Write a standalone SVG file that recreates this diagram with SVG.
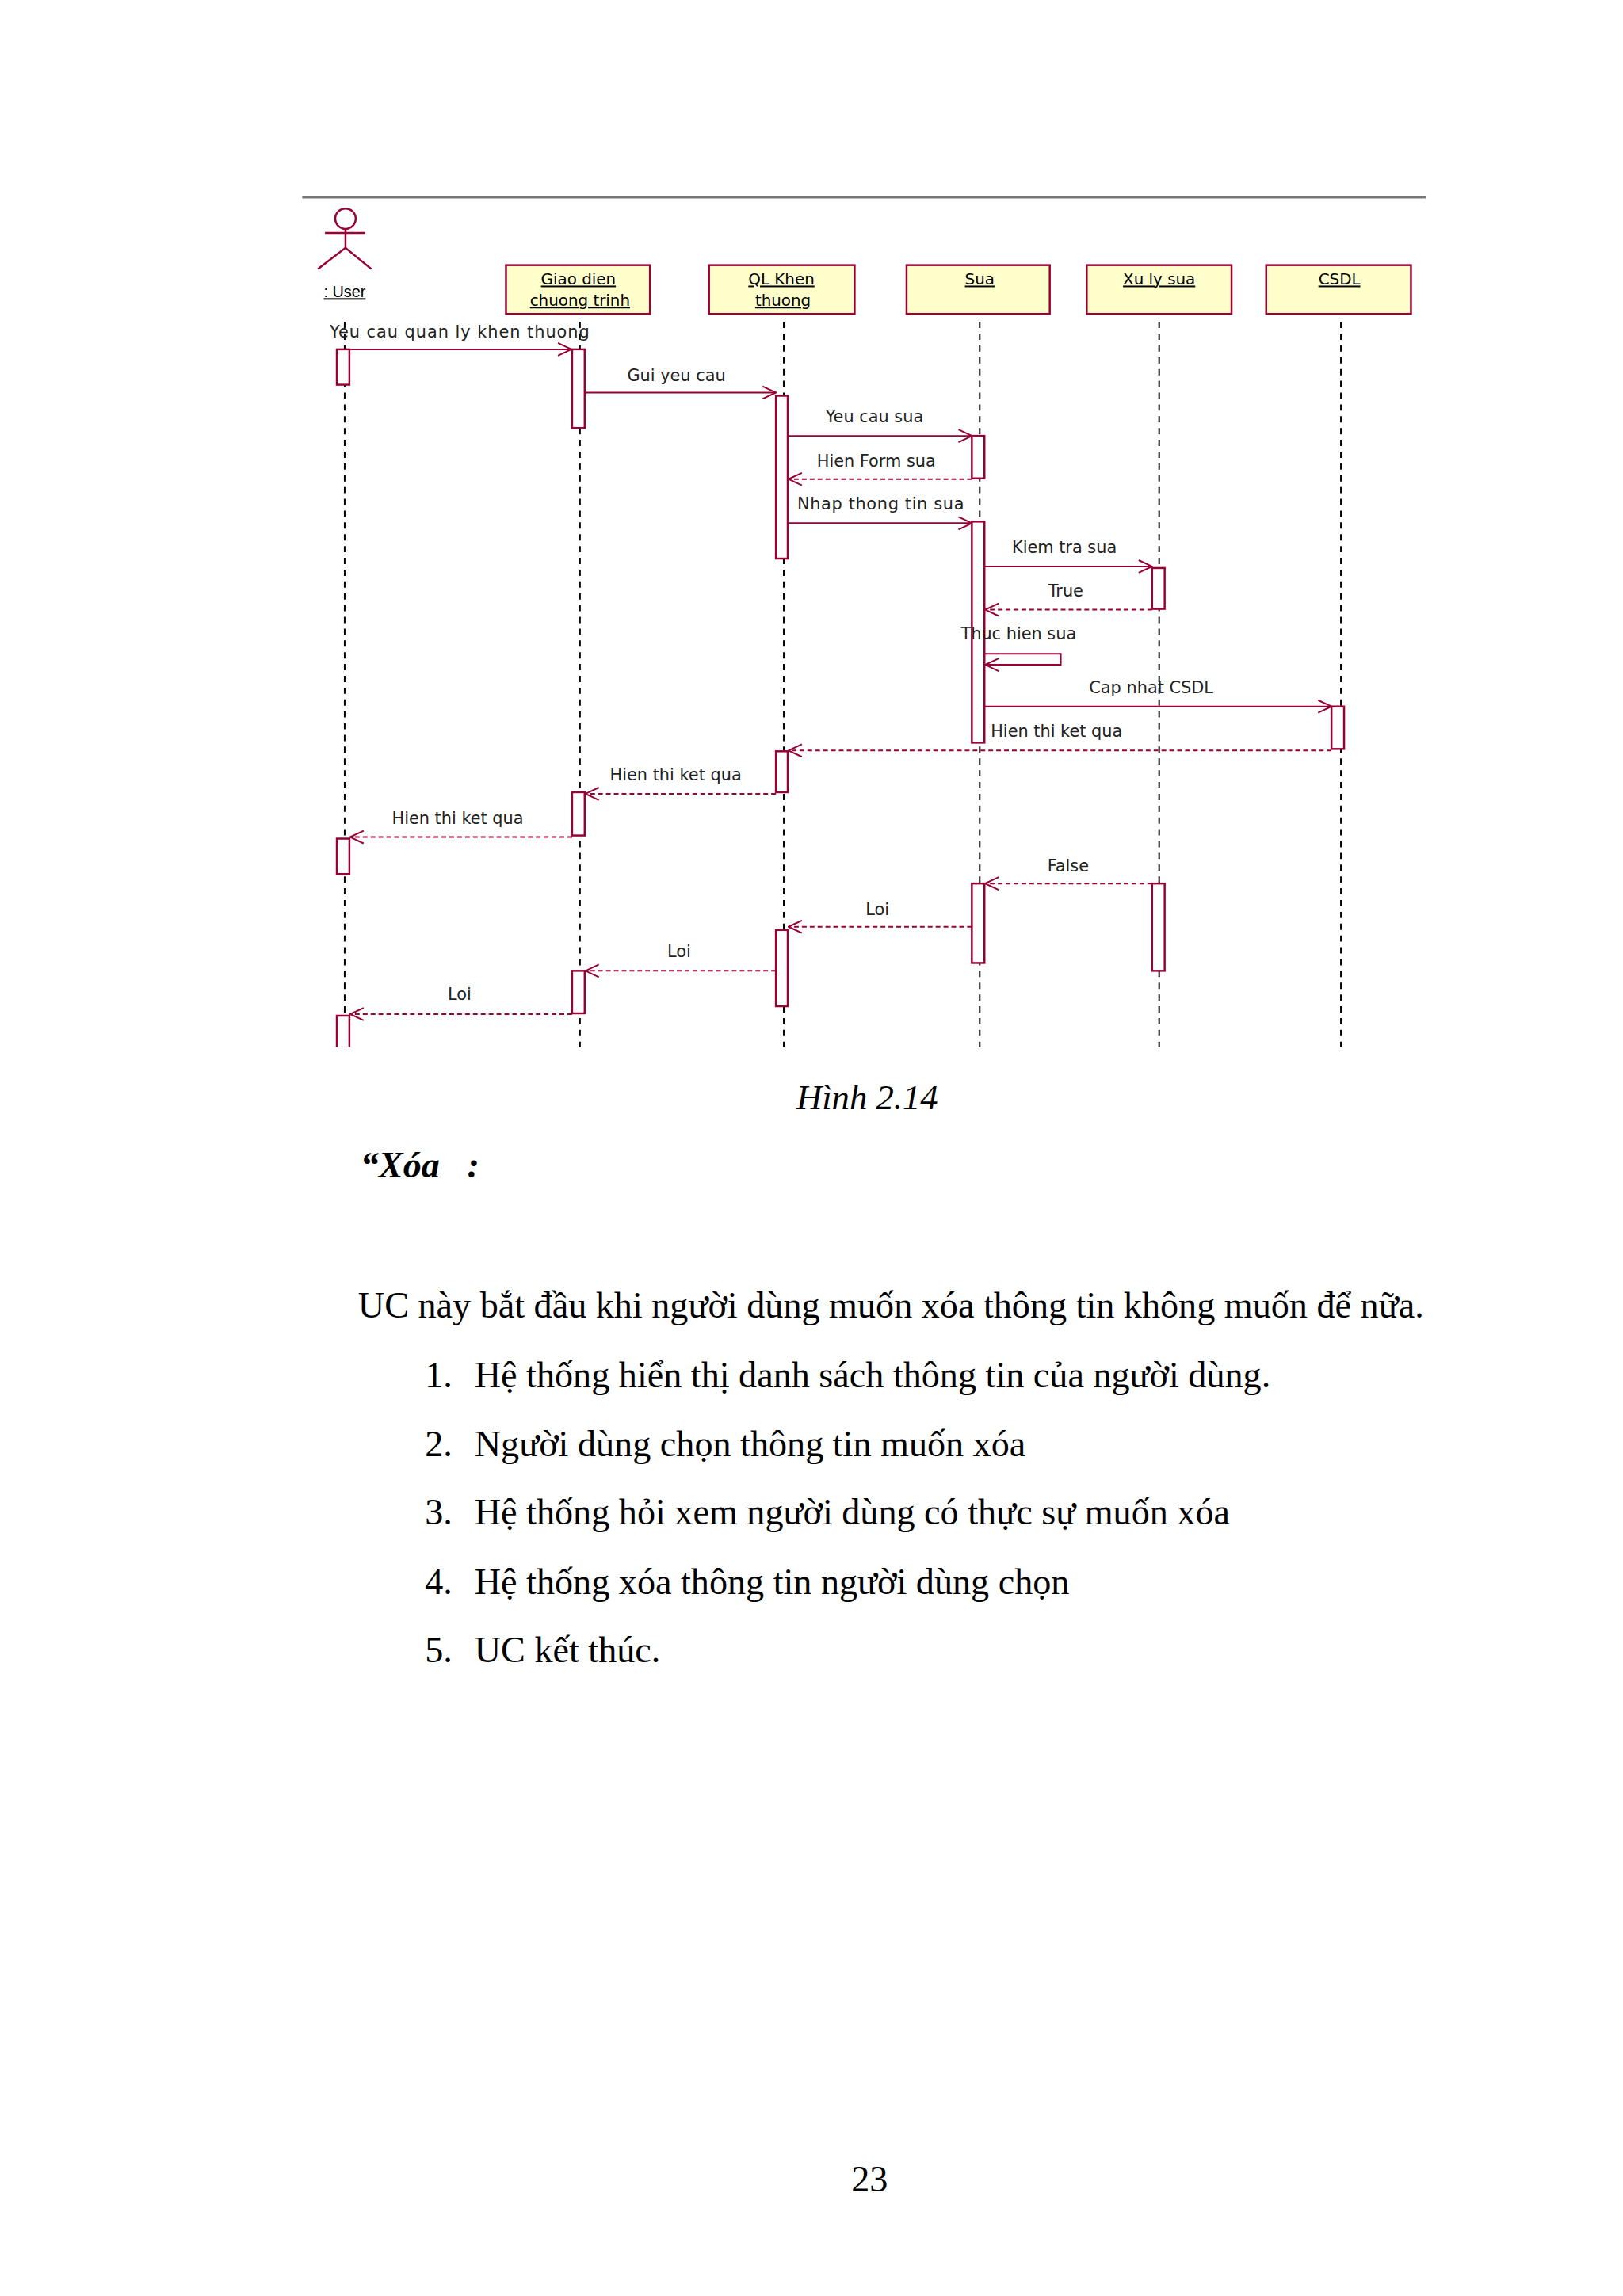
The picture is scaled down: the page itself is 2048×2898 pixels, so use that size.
<svg xmlns="http://www.w3.org/2000/svg" width="2048" height="2898" viewBox="0 0 2048 2898">
<style>
.box{fill:#ffffcc;stroke:#990033;stroke-width:2.5}
.act{fill:#fff;stroke:#990033;stroke-width:2.5}
.life{stroke:#000;stroke-width:2;stroke-dasharray:8,7}
.msg{stroke:#990033;stroke-width:2;fill:none}
.ret{stroke:#990033;stroke-width:2;fill:none;stroke-dasharray:6,4}
.nt{font-family:"DejaVu Sans",Verdana,sans-serif;font-size:20px;fill:#000;text-anchor:middle;text-decoration:underline}
.ml{font-family:"DejaVu Sans",Verdana,sans-serif;font-size:21px;fill:#222}
.body{font-family:"Liberation Serif","Times New Roman",serif;font-size:46.5px;fill:#000}
</style>
<defs>
<marker id="ah" viewBox="0 0 20 20" refX="19" refY="10" markerWidth="20" markerHeight="20" markerUnits="userSpaceOnUse" orient="auto">
<path d="M2,2 L19,10 L2,18" fill="none" stroke="#990033" stroke-width="2"/>
</marker>
</defs>
<rect width="2048" height="2898" fill="#fff"/>
<g transform="scale(0.993)">
<g transform="translate(0,5)">
<line x1="384" y1="246" x2="1812" y2="246" stroke="#777" stroke-width="2.5"/>

<g id="user">
<circle cx="439" cy="273" r="13" fill="none" stroke="#990033" stroke-width="2.5"/>
<line x1="439" y1="286" x2="439" y2="310" stroke="#990033" stroke-width="2.5"/>
<line x1="413" y1="291" x2="464" y2="291" stroke="#990033" stroke-width="2.5"/>
<path d="M404,337 L439,310 L472,337" fill="none" stroke="#990033" stroke-width="2.5"/>
<text x="438" y="373" class="nt" style="font-family:'Liberation Sans',Arial,sans-serif">: User</text>
</g>
<g id="giao"><rect class="box" x="643" y="332" width="183" height="62"/><text class="nt" x="735" y="357">Giao dien</text><text class="nt" x="737" y="384">chuong trinh</text></g>
<g id="ql"><rect class="box" x="901" y="332" width="185" height="62"/><text class="nt" x="993" y="357">QL Khen</text><text class="nt" x="995" y="384">thuong</text></g>
<g id="sua"><rect class="box" x="1152" y="332" width="182" height="62"/><text class="nt" x="1245" y="357">Sua</text></g>
<g id="xuly"><rect class="box" x="1381" y="332" width="184" height="62"/><text class="nt" x="1473" y="357">Xu ly sua</text></g>
<g id="csdl"><rect class="box" x="1609" y="332" width="184" height="62"/><text class="nt" x="1702" y="357">CSDL</text></g>

<g id="lifelines">
<line class="life" x1="438" y1="404" x2="438" y2="1326"/>
<line class="life" x1="737" y1="404" x2="737" y2="1326"/>
<line class="life" x1="996" y1="404" x2="996" y2="1326"/>
<line class="life" x1="1245" y1="404" x2="1245" y2="1326"/>
<line class="life" x1="1473" y1="404" x2="1473" y2="1326"/>
<line class="life" x1="1704" y1="404" x2="1704" y2="1326"/>
</g>

<g id="activations">
<rect class="act" x="428" y="439" width="16" height="45"/>
<rect class="act" x="727" y="439" width="16" height="100"/>
<rect class="act" x="986" y="498" width="15" height="207"/>
<rect class="act" x="1235" y="549" width="16" height="54"/>
<rect class="act" x="1235" y="658" width="16" height="281"/>
<rect class="act" x="1464" y="717" width="16" height="52"/>
<rect class="act" x="1692" y="893" width="16" height="54"/>
<rect class="act" x="986" y="950" width="15" height="52"/>
<rect class="act" x="727" y="1002" width="16" height="55"/>
<rect class="act" x="428" y="1061" width="16" height="45"/>
<rect class="act" x="1235" y="1118" width="16" height="101"/>
<rect class="act" x="1464" y="1118" width="16" height="111"/>
<rect class="act" x="986" y="1177" width="15" height="97"/>
<rect class="act" x="727" y="1229" width="16" height="54"/>
<path class="act" d="M428,1326 L428,1286 L444,1286 L444,1326" />
</g>

<g id="connectors">
<line class="msg" x1="444" y1="439" x2="726" y2="439" marker-end="url(#ah)"/>
<line class="msg" x1="743" y1="494" x2="986" y2="494" marker-end="url(#ah)"/>
<line class="msg" x1="1001" y1="549" x2="1235" y2="549" marker-end="url(#ah)"/>
<line class="ret" x1="1235" y1="604" x2="1002" y2="604" marker-end="url(#ah)"/>
<line class="msg" x1="1001" y1="660" x2="1235" y2="660" marker-end="url(#ah)"/>
<line class="msg" x1="1251" y1="715" x2="1464" y2="715" marker-end="url(#ah)"/>
<line class="ret" x1="1464" y1="770" x2="1252" y2="770" marker-end="url(#ah)"/>
<path class="msg" d="M1251,826 L1348,826 L1348,840 L1252,840" marker-end="url(#ah)"/>
<line class="msg" x1="1251" y1="893" x2="1692" y2="893" marker-end="url(#ah)"/>
<line class="ret" x1="1692" y1="949" x2="1002" y2="949" marker-end="url(#ah)"/>
<line class="ret" x1="986" y1="1004" x2="744" y2="1004" marker-end="url(#ah)"/>
<line class="ret" x1="727" y1="1059" x2="445" y2="1059" marker-end="url(#ah)"/>
<line class="ret" x1="1464" y1="1118" x2="1252" y2="1118" marker-end="url(#ah)"/>
<line class="ret" x1="1235" y1="1173" x2="1002" y2="1173" marker-end="url(#ah)"/>
<line class="ret" x1="986" y1="1229" x2="744" y2="1229" marker-end="url(#ah)"/>
<line class="ret" x1="727" y1="1284" x2="445" y2="1284" marker-end="url(#ah)"/>
</g>

<g id="labels">
<text class="ml" x="419" y="424" textLength="330">Yeu cau quan ly khen thuong</text>
<text class="ml" x="797" y="479">Gui yeu cau</text>
<text class="ml" x="1049" y="532">Yeu cau sua</text>
<text class="ml" x="1038" y="588">Hien Form sua</text>
<text class="ml" x="1013" y="643" textLength="212">Nhap thong tin sua</text>
<text class="ml" x="1286" y="698">Kiem tra sua</text>
<text class="ml" x="1332" y="753">True</text>
<text class="ml" x="1221" y="808">Thuc hien sua</text>
<text class="ml" x="1384" y="876">Cap nhat CSDL</text>
<text class="ml" x="1259" y="932">Hien thi ket qua</text>
<text class="ml" x="775" y="987">Hien thi ket qua</text>
<text class="ml" x="498" y="1042">Hien thi ket qua</text>
<text class="ml" x="1331" y="1103">False</text>
<text class="ml" x="1100" y="1158">Loi</text>
<text class="ml" x="848" y="1212">Loi</text>
<text class="ml" x="569" y="1266">Loi</text>
</g>
</g>

<text x="1102" y="1410" class="body" style="font-style:italic;font-size:45px" text-anchor="middle">Hình 2.14</text>
<text x="458" y="1496" class="body" style="font-style:italic;font-weight:bold;white-space:pre">“Xóa   :</text>
<text x="455" y="1675" class="body">UC này bắt đầu khi người dùng muốn xóa thông tin không muốn để nữa.</text>
<g class="body">
<text x="540" y="1763">1.</text><text x="603" y="1763">Hệ thống hiển thị danh sách thông tin của người dùng.</text>
<text x="540" y="1851">2.</text><text x="603" y="1851">Người dùng chọn thông tin muốn xóa</text>
<text x="540" y="1938">3.</text><text x="603" y="1938">Hệ thống hỏi xem người dùng có thực sự muốn xóa</text>
<text x="540" y="2026">4.</text><text x="603" y="2026">Hệ thống xóa thông tin người dùng chọn</text>
<text x="540" y="2113">5.</text><text x="603" y="2113">UC kết thúc.</text>
</g>
<text x="1105" y="2785" class="body" text-anchor="middle">23</text>
</g>
</svg>
